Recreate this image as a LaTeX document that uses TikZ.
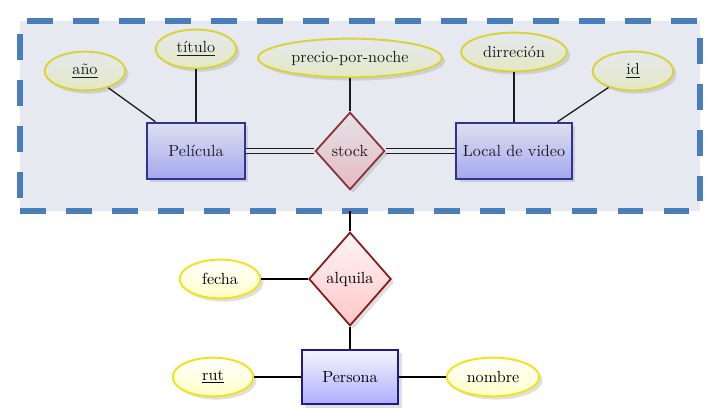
\documentclass[tikz,border=0pt]{standalone}
\usepackage{xcolor}
\definecolor{entityblue}{HTML}{1C1C8A}
\definecolor{relred}{HTML}{8B1A1A}
\definecolor{attryellow}{HTML}{F2E21A}
\definecolor{aggblue}{HTML}{4A7EBB}
\definecolor{agggray}{HTML}{8090B0}
\usetikzlibrary{shapes.geometric,shadows}

\begin{document}
\begin{tikzpicture}[x=0.62pt,y=-0.62pt,
  softshadow/.style={drop shadow={opacity=0.25,shadow xshift=2pt,shadow yshift=-2pt}},
  entity/.style={draw=entityblue,line width=1.3pt,top color=blue!4,bottom color=blue!32,
    minimum width=61pt,minimum height=35pt,inner sep=4pt,softshadow},
  relation/.style={diamond,draw=relred,line width=1.1pt,top color=red!4,bottom color=red!22,
    inner sep=3pt,softshadow},
  attribute/.style={ellipse,draw=attryellow,line width=1.2pt,top color=white,bottom color=yellow!22,
    minimum width=50pt,minimum height=24pt,inner sep=4pt,softshadow},
  link/.style={line width=0.8pt},
  idlink/.style={double,double distance=3pt,line width=0.6pt}]
  \useasboundingbox (0,0) rectangle (720,418);
  % Entities
  \node[entity] (pelicula) at (196,151) {Película};
  \node[entity] (local) at (514,151) {Local de video};
  \node[entity,minimum width=60pt,minimum height=34pt] (persona) at (350,377) {Persona};
  % Relations
  \node[relation,minimum width=43pt,minimum height=48pt] (stock) at (350,151) {stock};
  \node[relation,minimum width=51pt,minimum height=58pt] (alquila) at (350,279) {alquila};
  % Attributes
  \node[attribute] (anio) at (85,71) {\underline{año}};
  \node[attribute] (titulo) at (196,49) {\underline{título}};
  \node[attribute] (precio) at (350,58) {precio-por-noche};
  \node[attribute] (direccion) at (514,52) {dirreción};
  \node[attribute] (id) at (633,71) {\underline{id}};
  \node[attribute] (fecha) at (220,279) {fecha};
  \node[attribute] (rut) at (213,377) {\underline{rut}};
  \node[attribute] (nombre) at (493,377) {nombre};
  % Links inside the aggregation
  \draw[link] (anio) -- (pelicula);
  \draw[link] (titulo) -- (pelicula);
  \draw[link] (precio) -- (stock);
  \draw[link] (direccion) -- (local);
  \draw[link] (id) -- (local);
  \draw[idlink] (pelicula) -- (stock);
  \draw[idlink] (stock) -- (local);
  % Aggregation box
  \node[draw=aggblue,line width=3.5pt,dash pattern=on 16pt off 12.5pt,
    fill=agggray,fill opacity=0.2,inner sep=0pt,outer sep=0pt,
    minimum width=421.6pt,minimum height=117.8pt] (agg) at (360,116) {};
  % Links outside
  \draw[link] (agg.south -| alquila.north) -- (alquila);
  \draw[link] (fecha) -- (alquila);
  \draw[link] (alquila) -- (persona);
  \draw[link] (rut) -- (persona);
  \draw[link] (persona) -- (nombre);
\end{tikzpicture}
\end{document}
